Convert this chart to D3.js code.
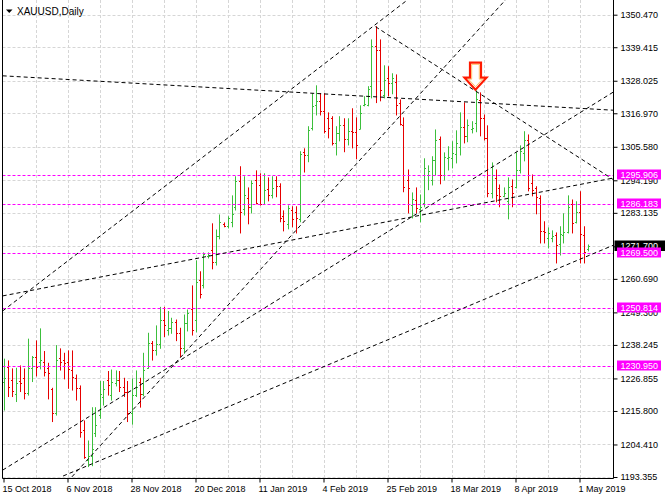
<!DOCTYPE html>
<html>
<head>
<meta charset="utf-8">
<script src="https://cdn.jsdelivr.net/npm/d3@7.9.0/dist/d3.min.js"></script>
<style>
  body { margin: 0; background: #fff; }
  svg { display: block; font-family: "Liberation Sans", Arial, sans-serif; }
</style>
</head>
<body>
<svg id="chart" width="665" height="500"></svg>
<script>
// XAUUSD daily bars, 15 Oct 2018 .. 3 May 2019
const opens = [1225.8,1230.9,1226.3,1221.5,1226.0,1226.9,1222.0,1230.3,1234.0,1232.6,1232.6,1230.3,1223.2,1215.0,1233.7,1233.1,1232.6,1229.7,1226.9,1223.5,
  1209.3,1199.1,1200.6,1208.2,1214.4,1220.7,1226.3,1221.2,1225.2,1226.3,1223.8,1222.4,1215.0,1221.1,1225.8,1221.5,1230.3,1238.8,1236.5,1238.5,
  1246.7,1243.3,1243.9,1246.2,1242.2,1237.1,1245.6,1250.5,1246.7,1260.3,1258.6,1268.5,1270.5,1266.5,1275.3,1279.4,1278.7,1280.1,1285.2,1294.0,
  1284.5,1288.2,1285.2,1294.3,1292.6,1286.2,1291.3,1289.2,1294.3,1292.3,1282.1,1279.4,1284.1,1283.5,1281.1,1303.9,1302.9,1312.0,1319.8,1321.2,
  1317.8,1315.4,1315.4,1306.9,1310.3,1313.0,1308.3,1311.0,1310.7,1311.7,1319.8,1319.8,1326.3,1339.9,1338.5,1323.2,1329.0,1327.3,1327.7,1320.5,
  1313.0,1294.3,1285.8,1287.5,1284.5,1286.5,1296.0,1294.3,1301.1,1308.3,1296.0,1301.8,1301.8,1303.2,1305.6,1312.4,1309.3,1311.7,1313.7,1321.5,
  1315.4,1308.6,1289.9,1295.0,1291.6,1288.9,1287.2,1292.3,1292.0,1297.7,1303.5,1307.9,1293.3,1291.6,1288.2,1277.0,1274.6,1274.6,1275.6,1272.6,
  1275.6,1276.7,1286.2,1280.1,1283.5,1275.6,1270.9];
const highs = [1233.4,1232.8,1230.1,1230.3,1231.1,1230.1,1240.2,1234.3,1239.6,1243.7,1236.0,1232.0,1223.5,1238.0,1236.9,1235.4,1236.2,1236.2,1228.0,1224.3,
  1212.4,1205.6,1216.9,1216.9,1225.8,1225.8,1229.2,1229.7,1229.4,1229.2,1226.9,1225.8,1226.7,1229.4,1226.9,1235.4,1242.2,1239.4,1244.7,1251.0,
  1251.0,1249.6,1247.3,1246.7,1243.9,1248.4,1250.1,1258.3,1266.8,1263.1,1269.5,1269.5,1279.4,1277.3,1282.4,1279.7,1281.8,1288.9,1295.4,1298.8,
  1295.4,1291.6,1294.0,1297.4,1296.4,1296.4,1295.0,1295.4,1295.4,1293.0,1283.8,1285.5,1285.2,1285.2,1303.9,1304.9,1312.4,1323.6,1326.3,1323.6,
  1323.6,1317.1,1315.8,1312.4,1315.8,1315.1,1315.1,1318.5,1315.4,1319.5,1322.6,1326.0,1341.9,1346.4,1341.9,1333.1,1332.8,1330.4,1330.0,1321.5,
  1315.4,1297.7,1289.9,1291.6,1289.2,1301.5,1299.1,1302.2,1311.3,1308.9,1303.5,1305.6,1307.3,1311.0,1317.1,1320.5,1314.7,1314.1,1324.6,1323.9,
  1316.4,1312.7,1300.1,1297.7,1292.6,1291.6,1295.0,1294.3,1303.5,1305.9,1310.7,1309.6,1296.0,1292.0,1288.9,1280.1,1278.0,1277.0,1276.3,1278.4,
  1282.8,1288.9,1287.5,1286.9,1290.3,1278.4,1272.2];
const lows = [1216.1,1220.7,1220.7,1219.0,1222.4,1219.9,1221.2,1225.8,1227.7,1230.1,1227.7,1219.9,1212.2,1214.4,1229.7,1226.7,1223.5,1222.9,1219.5,1206.9,
  1199.7,1196.9,1197.2,1207.1,1213.3,1217.8,1221.2,1219.5,1224.3,1222.4,1220.7,1212.2,1211.3,1220.7,1217.1,1221.0,1230.3,1233.1,1234.8,1237.1,
  1241.1,1241.6,1242.2,1239.7,1234.3,1235.4,1243.0,1241.6,1242.7,1254.2,1257.6,1267.8,1264.1,1265.4,1274.3,1278.4,1278.0,1278.4,1284.1,1276.3,
  1282.4,1279.4,1283.1,1286.2,1285.8,1286.2,1287.2,1288.2,1288.6,1280.1,1277.0,1277.7,1278.4,1276.3,1280.1,1297.0,1300.5,1311.3,1316.4,1316.4,
  1310.3,1308.6,1306.2,1302.8,1307.6,1303.9,1306.2,1305.2,1301.5,1311.7,1319.5,1319.5,1322.2,1320.6,1321.2,1322.2,1322.9,1323.6,1316.4,1313.0,
  1290.3,1283.1,1281.4,1283.1,1280.1,1285.2,1291.0,1292.6,1296.0,1293.0,1294.3,1297.7,1298.4,1300.1,1302.8,1306.9,1307.3,1310.3,1310.7,1309.3,
  1307.9,1288.6,1288.2,1286.9,1285.2,1288.6,1281.1,1285.2,1291.6,1296.7,1300.8,1290.6,1288.9,1282.8,1272.9,1272.9,1271.2,1273.3,1266.1,1268.8,
  1272.9,1276.3,1276.3,1279.7,1266.1,1266.1,1270.2];
const closes = [1227.1,1223.8,1222.6,1225.2,1225.2,1221.8,1230.3,1234.0,1230.9,1233.1,1229.2,1228.6,1215.0,1233.1,1232.6,1232.0,1229.9,1227.2,1223.5,1208.8,
  1200.3,1200.6,1202.9,1211.0,1221.5,1223.3,1224.6,1225.8,1226.3,1223.8,1222.4,1215.0,1221.1,1224.1,1221.5,1229.7,1238.8,1236.5,1238.5,1246.7,
  1245.0,1243.9,1246.2,1242.2,1237.1,1245.6,1249.0,1243.3,1259.7,1255.6,1269.2,1268.8,1266.5,1275.3,1280.1,1278.7,1281.4,1282.8,1294.0,1283.5,
  1289.2,1285.2,1293.3,1286.5,1286.2,1290.9,1289.2,1291.6,1292.3,1281.4,1280.4,1284.8,1281.1,1281.4,1303.2,1302.9,1311.3,1319.5,1321.2,1317.8,
  1311.0,1312.0,1306.9,1310.3,1313.0,1308.3,1311.0,1310.7,1306.2,1317.1,1320.2,1325.3,1339.9,1338.5,1324.9,1328.3,1327.3,1329.0,1319.8,1313.4,
  1292.0,1291.6,1287.9,1284.8,1285.2,1298.4,1297.4,1301.1,1307.9,1296.0,1302.2,1302.2,1303.5,1306.9,1312.4,1309.3,1313.0,1312.0,1321.9,1315.4,
  1308.6,1289.9,1296.0,1289.2,1288.9,1289.9,1292.0,1289.9,1297.7,1304.2,1307.9,1291.6,1290.9,1288.6,1277.0,1276.7,1276.3,1275.3,1272.2,1276.0,
  1276.7,1285.2,1279.7,1283.5,1276.0,1269.9,1271.7];

const dateLabels = ['15 Oct 2018','6 Nov 2018','28 Nov 2018','20 Dec 2018','11 Jan 2019','4 Feb 2019','25 Feb 2019','18 Mar 2019','8 Apr 2019','1 May 2019'];
const dateLabelBars = [0,16,32,48,64,80,96,112,128,144];

const priceTicks = [1193.355,1204.410,1215.800,1226.855,1238.245,1249.300,1260.690,1271.745,1283.135,1294.190,1305.580,1316.970,1328.025,1339.415,1350.470];

// horizontal levels (magenta)
const levelPrices = [1295.906,1286.183,1269.500,1250.814,1230.950];

// trend lines: [bar, price] -> [bar, price]
const trendLines = [
  [[-0.2,1329.7],[152.6,1318.0]],
  [[-0.2,1249.8],[101.0,1355.5]],
  [[17.1,1193.4],[125.5,1355.5]],
  [[93.0,1346.4],[152.6,1294.3]],
  [[-0.2,1195.7],[152.6,1324.3]],
  [[-0.2,1254.9],[152.6,1295.0]],
  [[14.9,1193.7],[152.6,1272.2]]
];

// arrow marker above the 21 Mar high
const arrowBar = 118;
const arrowPrice = 1325.0;

const W = 665, H = 500;
const left = 2.5, right = 613.5, bottom = 478.5;
const upColor = '#3cbf3c', downColor = '#e60000', magenta = '#ff00ff';

const x = d3.scaleLinear().domain([0, 146]).range([3.5, 587.5]);
const y = d3.scaleLinear().domain([1193.355, 1350.470]).range([477, 14.7]);

const svg = d3.select('#chart');

svg.append('defs').append('clipPath').attr('id', 'plot')
  .append('rect').attr('x', left).attr('y', 0).attr('width', right - left).attr('height', bottom);

const plot = svg.append('g').attr('clip-path', 'url(#plot)');

// grid
const grid = plot.append('g').attr('stroke', '#d6d6d6').attr('stroke-dasharray', '3,2').attr('stroke-width', 1);
d3.range(8, 147, 8).forEach(i => {
  grid.append('line').attr('x1', Math.round(x(i)) + 0.5).attr('x2', Math.round(x(i)) + 0.5)
    .attr('y1', 0).attr('y2', bottom);
});
priceTicks.forEach(p => {
  grid.append('line').attr('x1', left).attr('x2', right)
    .attr('y1', Math.round(y(p)) + 0.5).attr('y2', Math.round(y(p)) + 0.5);
});

// bars
const bars = plot.append('g').attr('stroke-width', 1);
opens.forEach((o, i) => {
  const c = closes[i];
  const col = c >= o ? upColor : downColor;
  const bx = Math.round(x(i)) + 0.5;
  const g = bars.append('g').attr('stroke', col);
  g.append('line').attr('x1', bx).attr('x2', bx).attr('y1', y(highs[i]) - 0.5).attr('y2', y(lows[i]) + 0.5);
  g.append('line').attr('x1', bx - 1.5).attr('x2', bx).attr('y1', Math.round(y(o)) + 0.5).attr('y2', Math.round(y(o)) + 0.5);
  g.append('line').attr('x1', bx).attr('x2', bx + 1.5).attr('y1', Math.round(y(c)) + 0.5).attr('y2', Math.round(y(c)) + 0.5);
});

// magenta levels
levelPrices.forEach(p => {
  plot.append('line').attr('x1', left).attr('x2', right)
    .attr('y1', Math.round(y(p)) + 0.5).attr('y2', Math.round(y(p)) + 0.5)
    .attr('stroke', magenta).attr('stroke-dasharray', '3,2');
});

// trend lines
trendLines.forEach(([a, b]) => {
  plot.append('line')
    .attr('x1', x(a[0])).attr('y1', y(a[1]))
    .attr('x2', x(b[0])).attr('y2', y(b[1]))
    .attr('stroke', '#000').attr('stroke-width', 1).attr('stroke-dasharray', '4,3');
});

// arrow
const ax = x(arrowBar), ay = y(arrowPrice);
const arrowPts = [[0,0],[-11,-12],[-5.5,-12],[-5.5,-27],[5.5,-27],[5.5,-12],[11,-12]];
plot.append('polygon')
  .attr('points', arrowPts.map(([dx, dy]) => (ax + dx) + ',' + (ay + dy)).join(' '))
  .attr('fill', '#fff').attr('stroke', '#ff1a00').attr('stroke-width', 2.2).attr('stroke-linejoin', 'miter');
plot.append('polygon')
  .attr('points', [[0,-3],[-7,-10.5],[-3.8,-10.5],[-3.8,-25.3],[3.8,-25.3],[3.8,-10.5],[7,-10.5]]
    .map(([dx, dy]) => (ax + dx) + ',' + (ay + dy)).join(' '))
  .attr('fill', 'none').attr('stroke', '#ffb347').attr('stroke-width', 0.8);

// frame
svg.append('path')
  .attr('d', `M${left},0V${bottom}H${right}V0`)
  .attr('fill', 'none').attr('stroke', '#000').attr('stroke-width', 1);

// right price axis
const yAxis = svg.append('g').attr('transform', `translate(${right},0)`)
  .call(d3.axisRight(y).tickValues(priceTicks).tickSize(4).tickPadding(3).tickFormat(d => d.toFixed(3)));
yAxis.select('.domain').remove();
yAxis.selectAll('text').attr('font-size', 9).attr('fill', '#000').attr('font-family', '"Liberation Sans", Arial, sans-serif');
yAxis.selectAll('line').attr('stroke', '#000');

// bottom time axis
const xAxis = svg.append('g').attr('transform', `translate(0,${bottom})`)
  .call(d3.axisBottom(x).tickValues(dateLabelBars).tickSize(4).tickPadding(3).tickFormat((d, i) => dateLabels[i]));
xAxis.select('.domain').remove();
xAxis.selectAll('text').attr('text-anchor', 'start').attr('dx', -1.5)
  .attr('font-size', 9).attr('fill', '#000').attr('font-family', '"Liberation Sans", Arial, sans-serif');
xAxis.selectAll('line').attr('stroke', '#000');

// current price label
const lastClose = closes[closes.length - 1];
const cy = Math.round(y(lastClose));
svg.append('rect').attr('x', right + 1).attr('y', cy - 5.5).attr('width', 52).attr('height', 10.5).attr('fill', '#000');
svg.append('text').attr('x', right + 7).attr('y', cy + 3.3).attr('fill', '#fff').attr('font-size', 9)
  .text(lastClose.toFixed(3));

// level labels
levelPrices.forEach(p => {
  const ly = Math.round(y(p));
  svg.append('rect').attr('x', right + 3.5).attr('y', ly - 5.5).attr('width', 44).attr('height', 10)
    .attr('fill', magenta);
  svg.append('text').attr('x', right + 7).attr('y', ly + 3).attr('fill', '#fff').attr('font-size', 9)
    .text(p.toFixed(3));
});

// title
svg.append('path').attr('d', 'M6,9.5H12.5L9.25,13Z').attr('fill', '#000');
svg.append('text').attr('x', 17).attr('y', 15).attr('font-size', 10).attr('fill', '#000').text('XAUUSD,Daily');
</script>
</body>
</html>
